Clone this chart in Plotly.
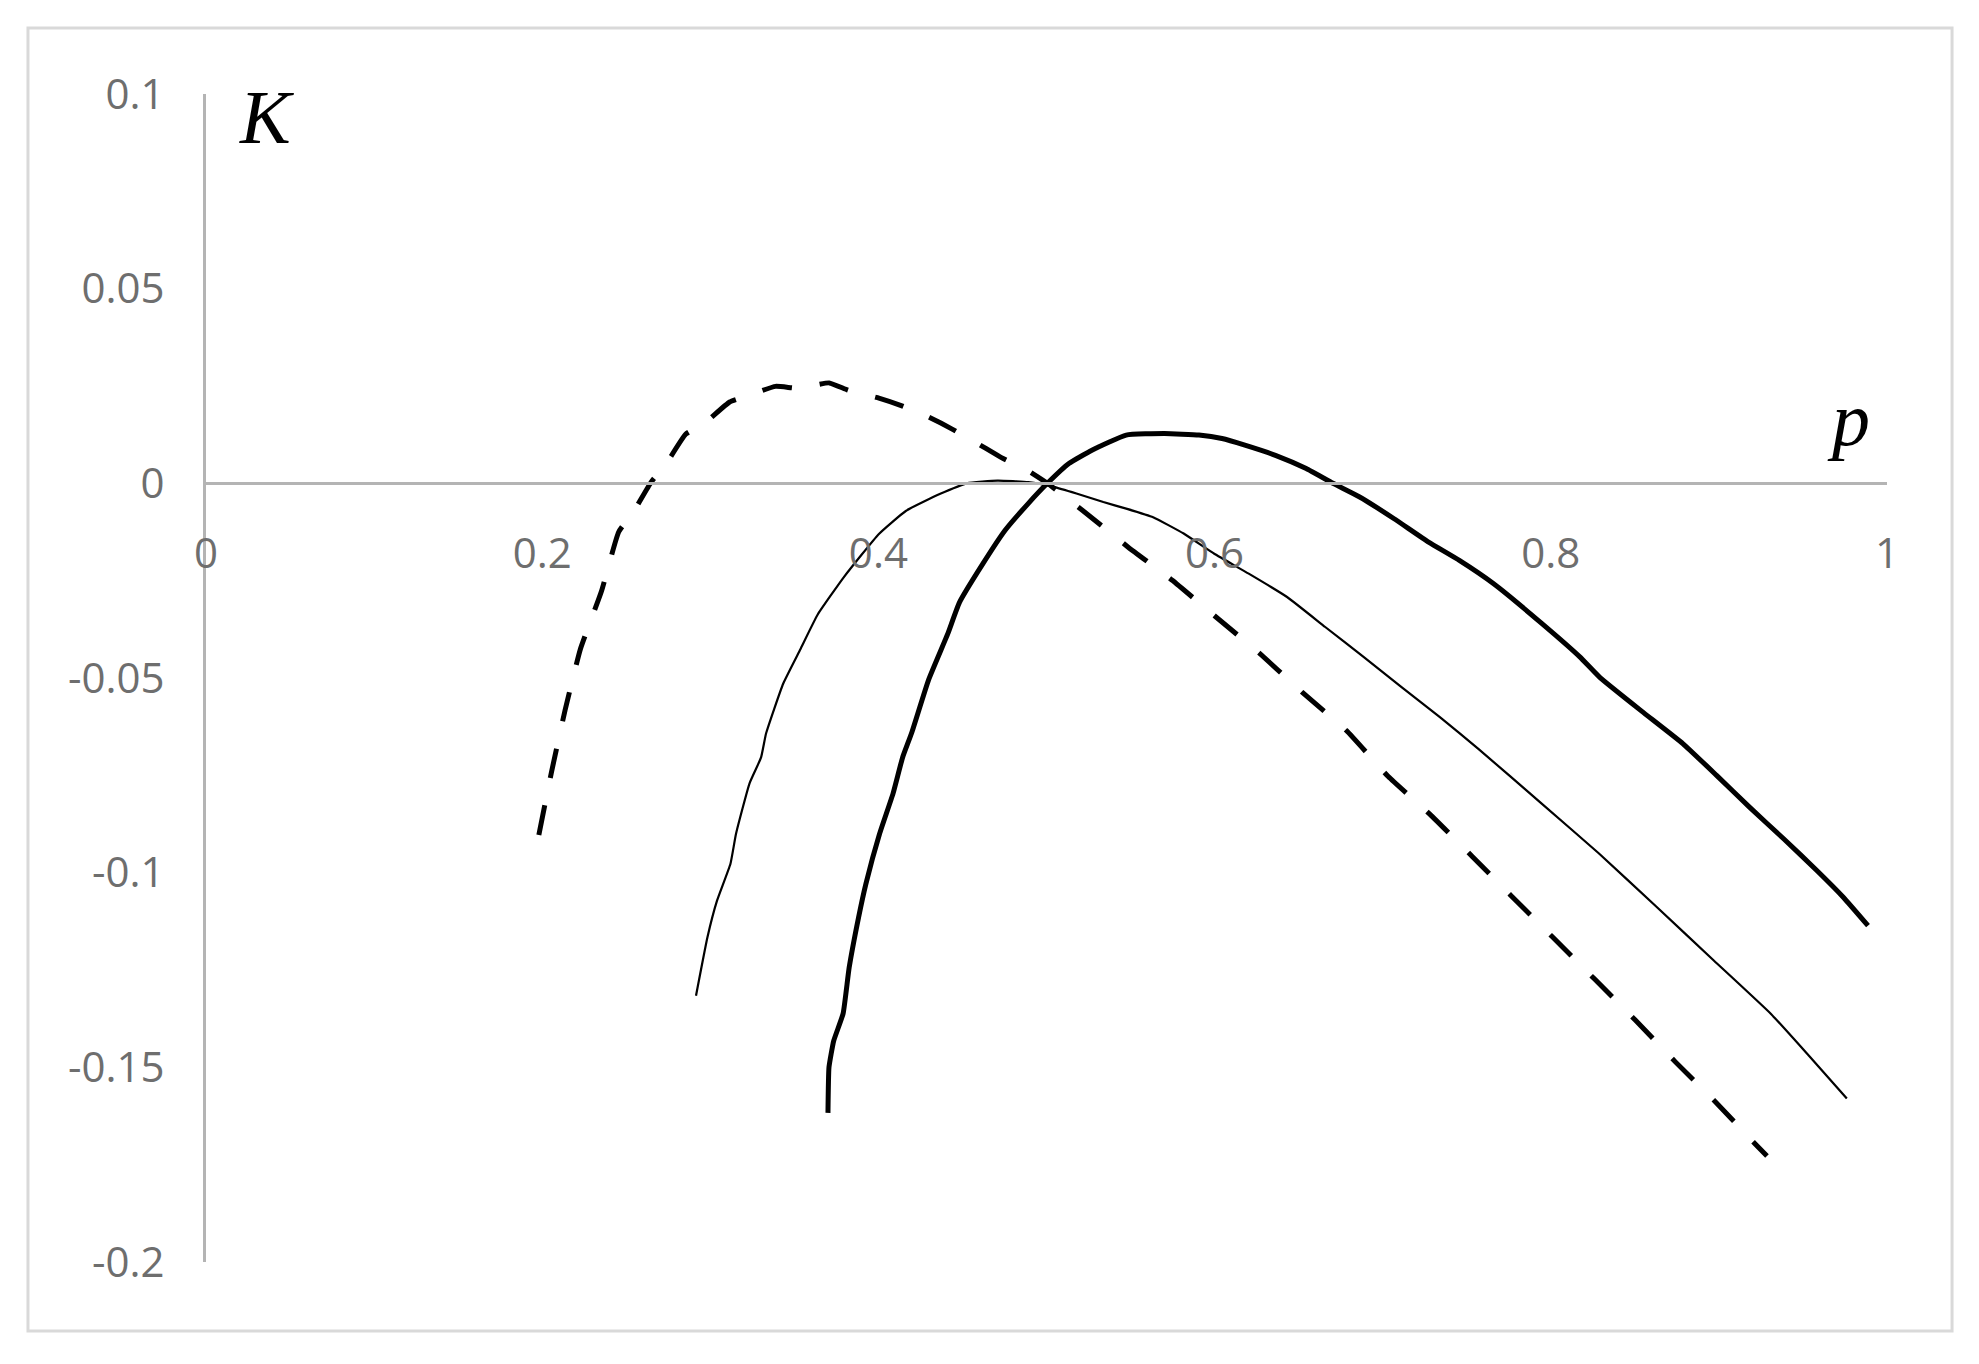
import plotly.graph_objects as go

# K(p) curves
p_dashed = [0.198, 0.2056, 0.2136, 0.2227, 0.2352, 0.2455, 0.2546, 0.2648, 0.2740, 0.2853, 0.2967,
            0.3115, 0.3229, 0.3388, 0.3525, 0.3707, 0.3821, 0.4003, 0.4140, 0.4299, 0.4436, 0.4595,
            0.4732, 0.4891, 0.5005, 0.5213, 0.5486, 0.5748, 0.6010, 0.6271, 0.6522, 0.6784, 0.7033,
            0.7283, 0.7534, 0.7761, 0.8012, 0.8262, 0.8501, 0.8741, 0.8980, 0.9219, 0.9286]
k_dashed = [-0.0903, -0.074, -0.0583, -0.0426, -0.0278, -0.0125, -0.0071, 0.0003, 0.0052, 0.0126, 0.0155,
            0.0209, 0.0226, 0.0249, 0.0244, 0.0258, 0.0239, 0.0219, 0.0199, 0.0170, 0.0140, 0.0101,
            0.0066, 0.0032, 0.0, -0.0069, -0.0164, -0.0249, -0.0344, -0.0438, -0.0537, -0.0635, -0.0753,
            -0.0851, -0.0959, -0.1058, -0.1166, -0.1274, -0.1378, -0.1486, -0.1589, -0.1698, -0.1728]

p_thin = [0.2915, 0.2983, 0.3040, 0.3120, 0.3153, 0.3233, 0.3302, 0.3332, 0.3434, 0.3536, 0.3639,
          0.3798, 0.4003, 0.4163, 0.4368, 0.4527, 0.4709, 0.4891, 0.5042, 0.5178, 0.5338, 0.5474,
          0.5634, 0.5816, 0.5998, 0.6203, 0.6431, 0.6658, 0.6886, 0.7114, 0.7342, 0.7569, 0.7944,
          0.8285, 0.8627, 0.8968, 0.9310, 0.9537, 0.9761]
k_thin = [-0.1316, -0.1166, -0.1072, -0.0977, -0.0900, -0.0771, -0.0704, -0.0642, -0.0514, -0.0426, -0.0337,
          -0.0239, -0.0130, -0.0071, -0.0027, 0.0, 0.0007, 0.0003, -0.0009, -0.0026, -0.0048, -0.0065,
          -0.0087, -0.0129, -0.0181, -0.0232, -0.0292, -0.0369, -0.0446, -0.0524, -0.0601, -0.0682, -0.0822,
          -0.0950, -0.1087, -0.1225, -0.1363, -0.1471, -0.1580]

p_thick = [0.370, 0.3706, 0.3734, 0.3790, 0.3826, 0.3882, 0.3926, 0.4007, 0.4087, 0.4144, 0.4197,
           0.4299, 0.4413, 0.4481, 0.4618, 0.4755, 0.4891, 0.5005, 0.5133, 0.5270, 0.5474, 0.5702,
           0.5907, 0.6044, 0.6180, 0.6362, 0.6545, 0.6704, 0.6863, 0.7068, 0.7273, 0.7456, 0.7660,
           0.7944, 0.8171, 0.8293, 0.8540, 0.8787, 0.8986, 0.9185, 0.9385, 0.9584, 0.9740, 0.9887]
k_thick = [-0.1617, -0.150, -0.1432, -0.1362, -0.1244, -0.1115, -0.1028, -0.090, -0.0797, -0.0704, -0.0642,
           -0.0504, -0.0386, -0.0307, -0.0209, -0.0120, -0.0052, 0.0, 0.0051, 0.0085, 0.0124, 0.0128,
           0.0124, 0.0115, 0.0098, 0.0072, 0.0038, 0.0, -0.0035, -0.0091, -0.0151, -0.0198, -0.0258,
           -0.0359, -0.0445, -0.0499, -0.0585, -0.0669, -0.0750, -0.0833, -0.0913, -0.0995, -0.1063, -0.1136]

x_ticks = [0, 0.2, 0.4, 0.6, 0.8, 1]
x_labels = ["0", "0.2", "0.4", "0.6", "0.8", "1"]
y_ticks = [0.1, 0.05, 0, -0.05, -0.1, -0.15, -0.2]
y_labels = ["0.1", "0.05", "0", "-0.05", "-0.1", "-0.15", "-0.2"]

axis_grey = '#b4b4b4'
tick_font = dict(family='Open Sans', size=42, color='#6e6e6e')

fig = go.Figure()
fig.add_trace(go.Scatter(x=p_dashed, y=k_dashed, mode='lines',
                         line=dict(color='black', width=5, dash='30px,28px', shape='spline', smoothing=0.4)))
fig.add_trace(go.Scatter(x=p_thin, y=k_thin, mode='lines',
                         line=dict(color='black', width=2.2, shape='spline', smoothing=0.4)))
fig.add_trace(go.Scatter(x=p_thick, y=k_thick, mode='lines',
                         line=dict(color='black', width=5, shape='spline', smoothing=0.4)))

# page body has an 8px margin, so the figure is 8px smaller than the window
fig.update_layout(
    width=1971, height=1356,
    margin=dict(l=198, r=92, t=86, b=102),
    paper_bgcolor='white', plot_bgcolor='white',
    showlegend=False,
    xaxis=dict(range=[0, 1], tickvals=x_ticks, ticktext=x_labels, tickfont=tick_font,
               showgrid=False, zeroline=False, showline=True, linecolor=axis_grey, linewidth=3,
               anchor='free', position=2/3, ticks='', ticklabelstandoff=32),  # axis sits at K = 0
    yaxis=dict(range=[-0.2, 0.1], tickvals=y_ticks, ticktext=y_labels, tickfont=tick_font,
               showgrid=False, zeroline=False, showline=True, linecolor=axis_grey, linewidth=3,
               ticks='', ticklabelstandoff=30),
)

# axis names
fig.add_annotation(text='<i>K</i>', x=0.0357, y=0.9803, xref='paper', yref='paper', showarrow=False,
                   xanchor='center', yanchor='middle',
                   font=dict(family='Liberation Serif', size=76, color='black'))
fig.add_annotation(text='<i>p</i>', x=0.9768, y=0.7217, xref='paper', yref='paper', showarrow=False,
                   xanchor='center', yanchor='middle',
                   font=dict(family='Liberation Serif', size=76, color='black'))

# light frame round the chart
fig.add_shape(type='rect', xref='paper', yref='paper', x0=-0.1059, x1=1.0387, y0=-0.0591, y1=1.0565,
              line=dict(color='#d9d9d9', width=3), layer='below')

fig.write_html("out.html")
